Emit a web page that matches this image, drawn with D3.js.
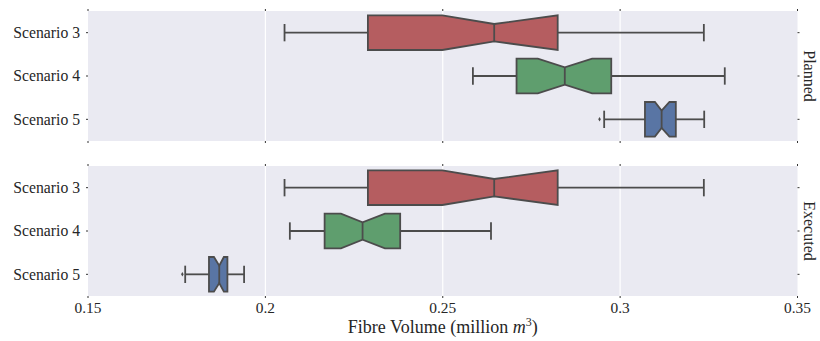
<!DOCTYPE html>
<html>
<head>
<meta charset="utf-8">
<script src="https://cdn.jsdelivr.net/npm/d3@7"></script>
<style>
	body { margin: 0; background: #fff; }
	text { font-family: "Liberation Serif", "DejaVu Serif", serif; fill: #262626; }
</style>
</head>
<body>
<svg id="chart" width="820" height="341"></svg>
<script>
// data
const panels		= ['Planned', 'Executed'];
const scenarios		= ['Scenario 3', 'Scenario 4', 'Scenario 5'];
const colors		= ['#b55d60', '#5f9e6e', '#5975a4'];
const xTicks		= [0.15, 0.2, 0.25, 0.3, 0.35];
const xTickLabels	= ['0.15', '0.2', '0.25', '0.3', '0.35'];

// one row per panel, one value per scenario
const whiskerLo	= [[0.2054, 0.2585, 0.2955], [0.2054, 0.2069, 0.1774]];
const q1		= [[0.2289, 0.2708, 0.3070], [0.2289, 0.2167, 0.1841]];
const ciLo		= [[0.2499, 0.2768, 0.3098], [0.2499, 0.2213, 0.1855]];
const median	= [[0.2645, 0.2844, 0.3117], [0.2645, 0.2274, 0.1870]];
const ciHi		= [[0.2824, 0.2921, 0.3139], [0.2824, 0.2337, 0.1883]];
const q3		= [[0.2824, 0.2975, 0.3157], [0.2824, 0.2380, 0.1893]];
const whiskerHi	= [[0.3236, 0.3295, 0.3237], [0.3236, 0.2636, 0.1940]];
const outliers	= [[[], [], [0.2942]], [[], [], [0.1766]]];

const svg		= d3.select('#chart');
const left		= 88, right = 797.5;
const panelTop	= [11, 166];
const panelH	= 130;
const edge		= '#4c4c4c';

let x	= d3.scaleLinear().domain([0.15, 0.35]).range([left, right]);

panels.forEach((panel, p) => {
	let y	= d3.scaleBand().domain(scenarios).range([panelTop[p], panelTop[p] + panelH]);
	let g	= svg.append('g').attr('class', 'panel');

	g.append('rect').attr('x', left).attr('y', panelTop[p]).attr('width', right - left).attr('height', panelH).style('fill', '#eaeaf2');

	// vertical grid
	g.selectAll('line.grid').data(xTicks.slice(1, -1)).enter().append('line')
		.attr('x1', d => x(d)).attr('x2', d => x(d)).attr('y1', panelTop[p]).attr('y2', panelTop[p] + panelH)
		.style('stroke', '#fff').style('stroke-width', 1.2);

	// tiny tick marks
	g.selectAll('line.xt').data(xTicks).enter().append('line')
		.attr('x1', d => x(d)).attr('x2', d => x(d)).attr('y1', panelTop[p] - 2).attr('y2', panelTop[p])
		.style('stroke', '#333').style('stroke-width', 1);
	g.selectAll('line.xb').data(xTicks).enter().append('line')
		.attr('x1', d => x(d)).attr('x2', d => x(d)).attr('y1', panelTop[p] + panelH).attr('y2', panelTop[p] + panelH + 2)
		.style('stroke', '#333').style('stroke-width', 1);
	g.selectAll('line.yl').data(scenarios).enter().append('line')
		.attr('x1', left - 2).attr('x2', left).attr('y1', d => y(d) + y.bandwidth() / 2).attr('y2', d => y(d) + y.bandwidth() / 2)
		.style('stroke', '#333').style('stroke-width', 1);
	g.selectAll('line.yr').data(scenarios).enter().append('line')
		.attr('x1', right).attr('x2', right + 2).attr('y1', d => y(d) + y.bandwidth() / 2).attr('y2', d => y(d) + y.bandwidth() / 2)
		.style('stroke', '#333').style('stroke-width', 1);

	// category labels
	g.selectAll('text.cat').data(scenarios).enter().append('text')
		.attr('x', left - 8).attr('y', d => y(d) + y.bandwidth() / 2).attr('dy', '0.35em')
		.attr('text-anchor', 'end').style('font-size', '15.7px').text(d => d);

	// panel title on the right
	let cy	= panelTop[p] + panelH / 2;
	g.append('text').attr('transform', 'translate(' + (right + 6) + ',' + cy + ') rotate(90)')
		.attr('text-anchor', 'middle').style('font-size', '16px').text(panel);

	scenarios.forEach((s, i) => {
		let c	= y(s) + y.bandwidth() / 2;
		let w	= y.bandwidth() * 0.8;
		let top	= c - w / 2, bot = c + w / 2, nTop = c - w / 4, nBot = c + w / 4;

		// whiskers and caps
		g.append('line').attr('x1', x(whiskerLo[p][i])).attr('x2', x(q1[p][i])).attr('y1', c).attr('y2', c).style('stroke', edge).style('stroke-width', 1.8);
		g.append('line').attr('x1', x(q3[p][i])).attr('x2', x(whiskerHi[p][i])).attr('y1', c).attr('y2', c).style('stroke', edge).style('stroke-width', 1.8);
		[whiskerLo[p][i], whiskerHi[p][i]].forEach(v => {
			g.append('line').attr('x1', x(v)).attr('x2', x(v)).attr('y1', c - w / 4).attr('y2', c + w / 4).style('stroke', edge).style('stroke-width', 1.8);
		});

		// notched box
		let pts	= [
			[x(q1[p][i]), top], [x(ciLo[p][i]), top], [x(median[p][i]), nTop], [x(ciHi[p][i]), top], [x(q3[p][i]), top],
			[x(q3[p][i]), bot], [x(ciHi[p][i]), bot], [x(median[p][i]), nBot], [x(ciLo[p][i]), bot], [x(q1[p][i]), bot]
		];
		g.append('path').attr('d', d3.line()(pts) + 'Z')
			.style('fill', colors[i]).style('stroke', edge).style('stroke-width', 1.8).style('stroke-linejoin', 'miter');
		g.append('line').attr('x1', x(median[p][i])).attr('x2', x(median[p][i])).attr('y1', nTop).attr('y2', nBot).style('stroke', edge).style('stroke-width', 1.8);

		// fliers
		g.selectAll(null).data(outliers[p][i]).enter().append('path')
			.attr('transform', d => 'translate(' + x(d) + ',' + c + ')')
			.attr('d', d3.symbol().type(d3.symbolDiamond).size(6))
			.style('fill', edge);
	});
});

// x axis labels
svg.selectAll('text.xt').data(xTicks).enter().append('text')
	.attr('x', d => x(d)).attr('y', panelTop[1] + panelH + 17)
	.attr('text-anchor', 'middle').style('font-size', '15.4px').text((d, i) => xTickLabels[i]);

let label	= svg.append('text').attr('x', (left + right) / 2).attr('y', 333).attr('text-anchor', 'middle').style('font-size', '18px');
label.append('tspan').text('Fibre Volume (million ');
label.append('tspan').style('font-style', 'italic').text('m');
label.append('tspan').attr('dy', -7).style('font-size', '12px').text('3');
label.append('tspan').attr('dy', 7).text(')');
</script>
</body>
</html>
